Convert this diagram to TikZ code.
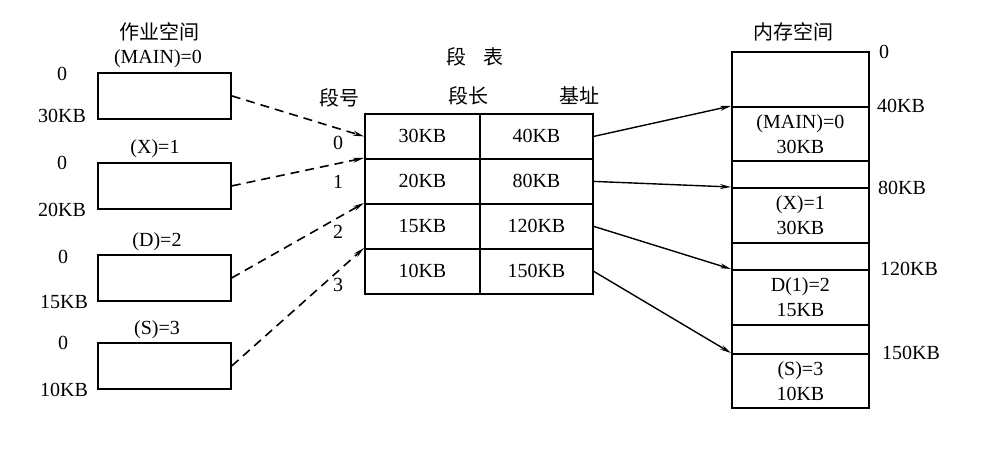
\documentclass[tikz,border=0pt]{standalone}
\usepackage{fontspec}
\setmainfont{Liberation Serif}
\newfontfamily\cjk{Noto Sans CJK SC}
\usetikzlibrary{arrows.meta}
\begin{document}
\begin{tikzpicture}[x=1pt,y=-1pt,
  every node/.style={font=\fontsize{20}{25}\selectfont, inner sep=0pt},
  lbl/.style={text height=13.5pt, text depth=0.5pt},
  jbox/.style={draw, line width=1.8pt, minimum width=133pt, minimum height=46pt, anchor=north west},
  cell/.style={draw, line width=1.8pt, minimum height=45pt, anchor=north west, align=center},
  mseg/.style={draw, line width=1.8pt, minimum width=137pt, anchor=north west, align=center},
  dashar/.style={line width=1.6pt, dash pattern=on 9pt off 6pt, -{Stealth[length=11pt,width=5pt]}},
  solar/.style={line width=1.4pt, -{Stealth[length=11pt,width=5pt]}}]
\useasboundingbox (0,0) rectangle (998,449);

% job space
\node[lbl] (jt) at (159,33) {\cjk 作业空间};
\node[lbl] (jt0) at (158,57) {(MAIN)=0};
\node[lbl] (jt1) at (155,147) {(X)=1};
\node[lbl] (jt2) at (157,240) {(D)=2};
\node[lbl] (jt3) at (157,328) {(S)=3};

\node[jbox] (b0) at (97,72) {};
\node[jbox] (b1) at (97,162) {};
\node[jbox] (b2) at (97,254) {};
\node[jbox] (b3) at (97,342) {};

\node[lbl] (l0a) at (62,74) {0};
\node[lbl] (l0b) at (62,116) {30KB};
\node[lbl] (l1a) at (62,163) {0};
\node[lbl] (l1b) at (62,210) {20KB};
\node[lbl] (l2a) at (63,257) {0};
\node[lbl] (l2b) at (64,302) {15KB};
\node[lbl] (l3a) at (63,343) {0};
\node[lbl] (l3b) at (64,390) {10KB};

% segment table
\node[lbl] (tt) at (475,58) {\cjk 段\hspace{0.9em}表};
\node[lbl] (th0) at (339,99) {\cjk 段号};
\node[lbl] (th1) at (468,97) {\cjk 段长};
\node[lbl] (th2) at (579,97) {\cjk 基址};

\node[cell, minimum width=115pt] (t0a) at (364,113) {30KB};
\node[cell, minimum width=113pt] (t0b) at (479,113) {40KB};
\node[cell, minimum width=115pt] (t1a) at (364,158) {20KB};
\node[cell, minimum width=113pt] (t1b) at (479,158) {80KB};
\node[cell, minimum width=115pt] (t2a) at (364,203) {15KB};
\node[cell, minimum width=113pt] (t2b) at (479,203) {120KB};
\node[cell, minimum width=115pt] (t3a) at (364,248) {10KB};
\node[cell, minimum width=113pt] (t3b) at (479,248) {150KB};

\node[lbl] (i0) at (338,143) {0};
\node[lbl] (i1) at (338,182) {1};
\node[lbl] (i2) at (338,232) {2};
\node[lbl] (i3) at (338,285) {3};

% memory
\node[lbl] (mt) at (793,33) {\cjk 内存空间};
\node[mseg, minimum height=55pt] (m0) at (731,51) {};
\node[mseg, minimum height=54pt] (m1) at (731,106) {(MAIN)=0\\30KB};
\node[mseg, minimum height=27pt] (m2) at (731,160) {};
\node[mseg, minimum height=55pt] (m3) at (731,187) {(X)=1\\30KB};
\node[mseg, minimum height=27pt] (m4) at (731,242) {};
\node[mseg, minimum height=55pt] (m5) at (731,269) {D(1)=2\\15KB};
\node[mseg, minimum height=29pt] (m6) at (731,324) {};
\node[mseg, minimum height=54pt] (m7) at (731,353) {(S)=3\\10KB};

\node[lbl, anchor=west] (a0) at (879,52) {0};
\node[lbl, anchor=west] (a1) at (877,106) {40KB};
\node[lbl, anchor=west] (a2) at (878,188) {80KB};
\node[lbl, anchor=west] (a3) at (880,269) {120KB};
\node[lbl, anchor=west] (a4) at (882,353) {150KB};

% connectors
\draw[dashar] (b0.east) -- (t0a.west);
\draw[dashar] (b1.east) -- (t1a.north west);
\draw[dashar] (b2.east) -- (t2a.north west);
\draw[dashar] (b3.east) -- (t3a.north west);

\draw[solar] (t0b.east) -- (m1.north west);
\draw[solar] (t1b.east) -- (m3.north west);
\draw[solar] (t2b.east) -- (m5.north west);
\draw[solar] (t3b.east) -- (m7.north west);
\end{tikzpicture}
\end{document}
